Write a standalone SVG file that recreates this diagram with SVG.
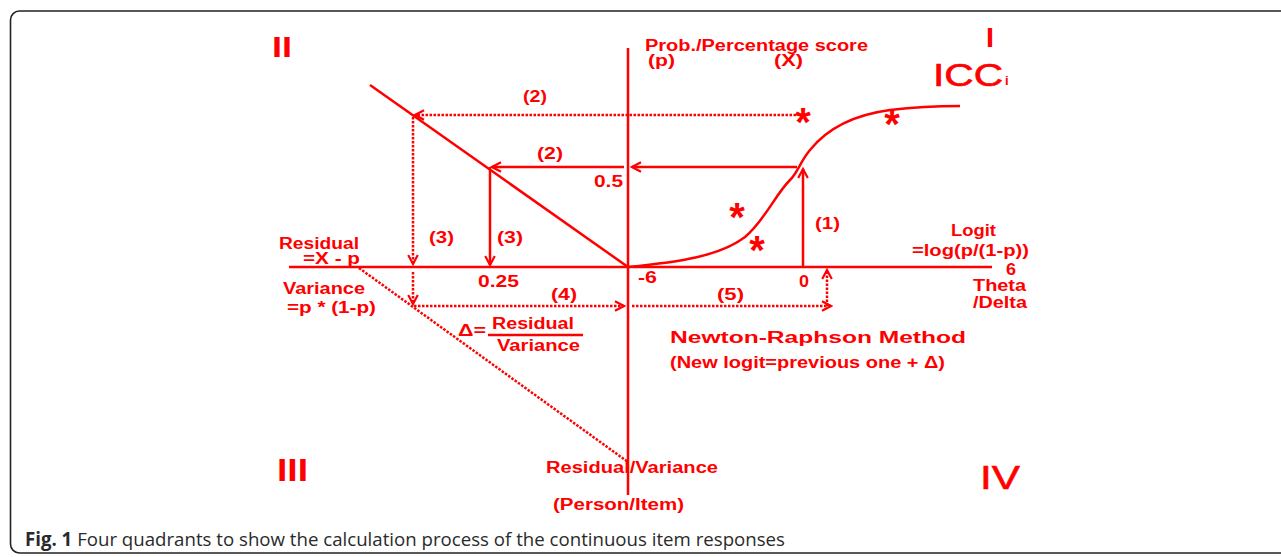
<svg xmlns="http://www.w3.org/2000/svg" width="1281" height="557" viewBox="0 0 1281 557">
<style>
.t{font-family:"Liberation Sans",Arial,sans-serif;font-weight:bold;fill:#ff0000;font-size:16px}
.big{font-family:"Liberation Sans",Arial,sans-serif;fill:#ff0000}
.star{font-family:"Liberation Sans",Arial,sans-serif;font-weight:bold;fill:#ff0000;font-size:40px;text-anchor:middle}
.ln{stroke:#ff0000;fill:none;stroke-width:2.5}
.dt{stroke:#ff0000;fill:none;stroke-width:2.5;stroke-dasharray:2.5 1.5}
.cap{font-family:"Open Sans","Liberation Sans",sans-serif;fill:#2a2a2a;font-size:19px}
</style>
<defs>
<marker id="arr" markerUnits="userSpaceOnUse" markerWidth="12" markerHeight="12" viewBox="0 0 10 10" refX="8.5" refY="5" orient="auto">
<path d="M1,1 L8.5,5 L1,9" fill="none" stroke="#ff0000" stroke-width="1.8"/>
</marker>
</defs>
<rect x="0" y="0" width="1281" height="557" fill="#fff"/>
<rect id="frame" x="10.5" y="11" width="1290" height="542" rx="9" fill="#fff" stroke="#222" stroke-width="1.6"/>

<g id="axes">
<line class="ln" x1="628" y1="48" x2="628" y2="495" stroke-width="3"/>
<line class="ln" x1="289" y1="267" x2="992" y2="267" stroke-width="3"/>
<line class="ln" x1="370" y1="85" x2="628" y2="267"/>
<path id="icc-curve" class="ln" stroke-width="2.8" d="M628,267 C680,262 720,256 745,237 C765,220 775,195 790,180 C798,172 800,162 810,150 C830,125 860,114 890,110 C915,107 935,106 960,106"/>
</g>

<g id="connectors">
<line class="dt" x1="796" y1="115" x2="415" y2="115" marker-end="url(#arr)"/>
<line class="dt" x1="413" y1="117" x2="413" y2="264" marker-end="url(#arr)"/>
<line class="dt" x1="413" y1="272" x2="413" y2="304" marker-end="url(#arr)"/>
<line class="ln" x1="797" y1="167" x2="632" y2="167" marker-end="url(#arr)"/>
<line class="ln" x1="624" y1="167" x2="492" y2="167" marker-end="url(#arr)"/>
<line class="ln" x1="490" y1="167" x2="490" y2="265" marker-end="url(#arr)"/>
<line class="ln" x1="803" y1="267" x2="803" y2="169" marker-end="url(#arr)"/>
<line class="dt" x1="414" y1="306" x2="624" y2="306" marker-end="url(#arr)"/>
<line class="dt" x1="632" y1="306" x2="831" y2="306" marker-end="url(#arr)"/>
<line class="dt" x1="827" y1="306" x2="827" y2="270" marker-end="url(#arr)"/>
<line class="dt" x1="359" y1="268" x2="628" y2="462"/>
<line class="ln" x1="488" y1="335" x2="583" y2="335" stroke-width="2"/>
</g>

<g id="stars">
<text class="star" x="803" y="136">*</text>
<text class="star" x="892" y="138">*</text>
<text class="star" x="737" y="231">*</text>
<text class="star" x="757" y="264">*</text>
</g>

<g id="quadrants">
<text class="big" x="272" y="57" font-size="30" font-weight="bold" textLength="20" lengthAdjust="spacingAndGlyphs">II</text>
<text class="big" x="986" y="47" font-size="28" font-weight="bold" textLength="8" lengthAdjust="spacingAndGlyphs">I</text>
<text class="big" x="933" y="86" font-size="32" stroke="#ff0000" stroke-width="0.6" textLength="70" lengthAdjust="spacingAndGlyphs">ICC</text>
<text class="big" x="1005" y="85" font-size="13" font-weight="bold">i</text>
<text class="big" x="277" y="481" font-size="32" font-weight="bold" textLength="31" lengthAdjust="spacingAndGlyphs">III</text>
<text class="big" x="980" y="489" font-size="33" stroke="#ff0000" stroke-width="0.6" textLength="40" lengthAdjust="spacingAndGlyphs">IV</text>
</g>

<g id="labels">
<text class="t" x="645" y="51" textLength="223" lengthAdjust="spacingAndGlyphs">Prob./Percentage score</text>
<text class="t" x="648" y="66" textLength="27" lengthAdjust="spacingAndGlyphs">(p)</text>
<text class="t" x="774" y="66" textLength="29" lengthAdjust="spacingAndGlyphs">(X)</text>
<text class="t" x="523" y="102" textLength="24" lengthAdjust="spacingAndGlyphs">(2)</text>
<text class="t" x="537" y="159" textLength="26" lengthAdjust="spacingAndGlyphs">(2)</text>
<text class="t" x="594" y="187" textLength="29" lengthAdjust="spacingAndGlyphs">0.5</text>
<text class="t" x="429" y="243" textLength="25" lengthAdjust="spacingAndGlyphs">(3)</text>
<text class="t" x="497" y="243" textLength="26" lengthAdjust="spacingAndGlyphs">(3)</text>
<text class="t" x="815" y="229" textLength="25" lengthAdjust="spacingAndGlyphs">(1)</text>
<text class="t" x="279" y="249" textLength="80" lengthAdjust="spacingAndGlyphs">Residual</text>
<text class="t" x="303" y="264" textLength="57" lengthAdjust="spacingAndGlyphs">=X - p</text>
<text class="t" x="478" y="287" textLength="41" lengthAdjust="spacingAndGlyphs">0.25</text>
<text class="t" x="638" y="283" textLength="19" lengthAdjust="spacingAndGlyphs">-6</text>
<text class="t" x="799" y="287" textLength="10" lengthAdjust="spacingAndGlyphs">0</text>
<text class="t" x="1006" y="275" font-size="15" textLength="10" lengthAdjust="spacingAndGlyphs">6</text>
<text class="t" x="951" y="236" textLength="45" lengthAdjust="spacingAndGlyphs">Logit</text>
<text class="t" x="912" y="256" textLength="117" lengthAdjust="spacingAndGlyphs">=log(p/(1-p))</text>
<text class="t" x="973" y="291" textLength="53" lengthAdjust="spacingAndGlyphs">Theta</text>
<text class="t" x="973" y="308" textLength="54" lengthAdjust="spacingAndGlyphs">/Delta</text>
<text class="t" x="283" y="294" textLength="82" lengthAdjust="spacingAndGlyphs">Variance</text>
<text class="t" x="287" y="313" textLength="89" lengthAdjust="spacingAndGlyphs">=p * (1-p)</text>
<text class="t" x="551" y="300" textLength="26" lengthAdjust="spacingAndGlyphs">(4)</text>
<text class="t" x="717" y="300" textLength="27" lengthAdjust="spacingAndGlyphs">(5)</text>
<text class="t" x="458" y="336" textLength="28" lengthAdjust="spacingAndGlyphs">Δ=</text>
<text class="t" x="492" y="329" textLength="82" lengthAdjust="spacingAndGlyphs">Residual</text>
<text class="t" x="497" y="351" textLength="83" lengthAdjust="spacingAndGlyphs">Variance</text>
<text class="t" x="670" y="343" font-size="20" textLength="296" lengthAdjust="spacingAndGlyphs">Newton-Raphson Method</text>
<text class="t" x="670" y="368" font-size="15" textLength="275" lengthAdjust="spacingAndGlyphs">(New logit=previous one + Δ)</text>
<text class="t" x="546" y="473" font-size="16.5" textLength="172" lengthAdjust="spacingAndGlyphs">Residual/Variance</text>
<text class="t" x="553" y="510" textLength="131" lengthAdjust="spacingAndGlyphs">(Person/Item)</text>
</g>

<text class="cap" x="25" y="546" textLength="760" lengthAdjust="spacingAndGlyphs"><tspan font-weight="bold">Fig. 1</tspan> Four quadrants to show the calculation process of the continuous item responses</text>
</svg>
